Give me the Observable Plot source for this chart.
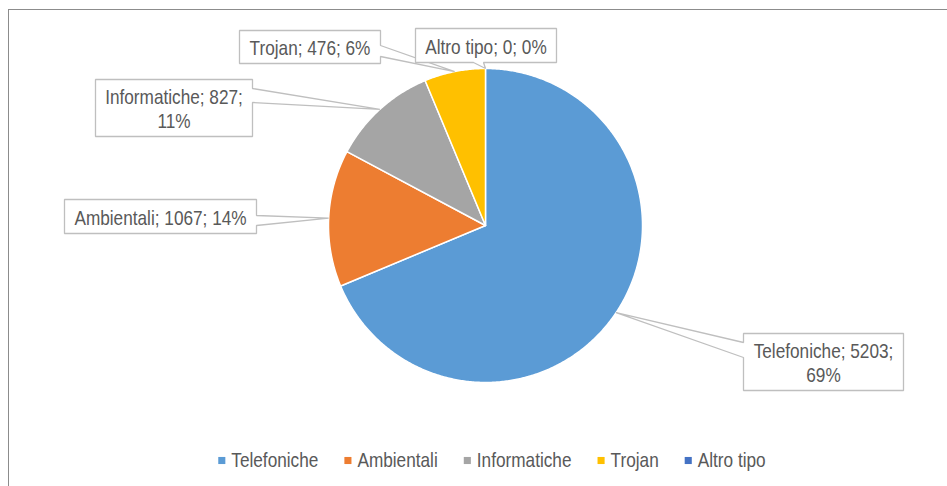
<!DOCTYPE html>
<html><head><meta charset="utf-8">
<script src="https://cdn.jsdelivr.net/npm/d3@7"></script>
<script src="https://cdn.jsdelivr.net/npm/@observablehq/plot@0.6"></script>
<style>
html,body{margin:0;padding:0;background:#fff;}
#wrap{position:relative;width:947px;height:486px;overflow:hidden;}
#frame{position:absolute;left:8px;top:9px;width:1200px;height:800px;border:1.5px solid #8c8c8c;box-sizing:border-box;}
#chart{position:absolute;left:0;top:0;}
</style></head><body>
<div id="wrap"><div id="frame"></div><div id="chart"></div></div>
<script>
// ---- data ----
const categories = ["Telefoniche", "Ambientali", "Informatiche", "Trojan", "Altro tipo"];
const values = [5203, 1067, 827, 476, 0];
const percents = [69, 14, 11, 6, 0];
const colors = ["#5B9BD5", "#ED7D31", "#A5A5A5", "#FFC000", "#4472C4"];

// ---- layout (pixels) ----
const W = 947, H = 486;
const CX = 485, CY = 225, R = 157;
const FONT = "'Liberation Sans', Arial, sans-serif";
const FS = 21;
const NARROW = 0.82; // horizontal condensation to mimic a narrow face
// callout boxes: [x0,y0,x1,y1], side of the pointer, pointer base along that side, wrap before percent
const calloutLayout = {
  "Telefoniche":  {box: [743, 333, 903, 390], side: "left",   base: [342, 357], wrap: true},
  "Ambientali":   {box: [64, 199, 256, 233],  side: "right",  base: [215, 225], wrap: false},
  "Informatiche": {box: [95, 79, 252, 136],   side: "right",  base: [88, 102],  wrap: true},
  "Trojan":       {box: [239, 30, 380, 63],   side: "right",  base: [45, 56],   wrap: false},
  "Altro tipo":   {box: [415, 28, 556, 62],   side: "bottom", base: [473, 483], wrap: false}
};

const data = categories.map((c, i) => ({name: c, value: values[i], pct: percents[i]}));
const arcs = d3.pie().sort(null).value(d => d.value)(data);
const px = a => CX + R * Math.sin(a);
const py = a => CY - R * Math.cos(a);

// slice polygons
const slicePts = [];
arcs.forEach(a => {
  if (a.endAngle - a.startAngle <= 0) return;
  const name = a.data.name;
  slicePts.push({name, x: CX, y: CY});
  const n = Math.max(4, Math.ceil((a.endAngle - a.startAngle) / (Math.PI / 360)));
  for (let k = 0; k <= n; k++) {
    const t = a.startAngle + (a.endAngle - a.startAngle) * k / n;
    slicePts.push({name, x: px(t), y: py(t)});
  }
});

// callouts
const calloutPts = [];
const calloutText = [];
arcs.forEach(a => {
  const name = a.data.name;
  const L = calloutLayout[name];
  const mid = (a.startAngle + a.endAngle) / 2;
  const tip = [px(mid), py(mid)];
  const [x0, y0, x1, y1] = L.box;
  const [b0, b1] = L.base;
  let poly;
  if (L.side === "right") poly = [[x0,y0],[x1,y0],[x1,b0],tip,[x1,b1],[x1,y1],[x0,y1]];
  else if (L.side === "left") poly = [[x0,y0],[x1,y0],[x1,y1],[x0,y1],[x0,b1],tip,[x0,b0]];
  else poly = [[x0,y0],[x1,y0],[x1,y1],[b1,y1],tip,[b0,y1],[x0,y1]];
  poly.forEach(p => calloutPts.push({name, x: p[0], y: p[1]}));
  const txt = L.wrap ? `${name}; ${a.data.value};\n${a.data.pct}%` : `${name}; ${a.data.value}; ${a.data.pct}%`;
  calloutText.push({name, x: (x0 + x1) / 2, y: (y0 + y1) / 2, text: txt});
});

// legend layout
const ctx = document.createElement("canvas").getContext("2d");
ctx.font = `${FS}px ${FONT}`;
const SQ = 7, GAP1 = 6, GAP2 = 26;
const widths = categories.map(c => ctx.measureText(c).width * NARROW);
const total = d3.sum(widths) + categories.length * (SQ + GAP1) + (categories.length - 1) * GAP2;
let lx = 491.5 - total / 2;
const LY = 460;
const legend = categories.map((c, i) => {
  const item = {name: c, sx: lx + SQ / 2, tx: lx + SQ + GAP1, y: LY};
  lx += SQ + GAP1 + widths[i] + GAP2;
  return item;
});

const chart = Plot.plot({
  width: W, height: H,
  margin: 0,
  x: {domain: [0, W], range: [0, W], axis: null},
  y: {domain: [0, H], range: [0, H], axis: null},
  color: {domain: categories, range: colors},
  style: {fontFamily: FONT, background: "transparent", overflow: "visible"},
  marks: [
    Plot.line(slicePts, {x: "x", y: "y", z: "name", fill: "name", stroke: "#fff", strokeWidth: 1.5, curve: "linear-closed"}),
    Plot.line(calloutPts, {x: "x", y: "y", z: "name", fill: "#fff", stroke: "#bfbfbf", strokeWidth: 1.3, curve: "linear-closed", strokeLinejoin: "miter"}),
    Plot.text(calloutText, {x: "x", y: "y", text: "text", fill: "#595959", fontSize: FS, lineHeight: 1.19, textAnchor: "middle"}),
    Plot.dot(legend, {x: "sx", y: "y", fill: "name", symbol: "square", r: 4}),
    Plot.text(legend, {x: "tx", y: "y", text: "name", fill: "#595959", fontSize: FS, textAnchor: "start"})
  ]
});

// condense text horizontally around each label's own anchor (after its translate)
d3.select(chart).selectAll("text").each(function () {
  const t = this.getAttribute("transform") || "";
  this.setAttribute("transform", `${t} scale(${NARROW},1)`);
});
document.getElementById("chart").appendChild(chart);
</script>
</body></html>
